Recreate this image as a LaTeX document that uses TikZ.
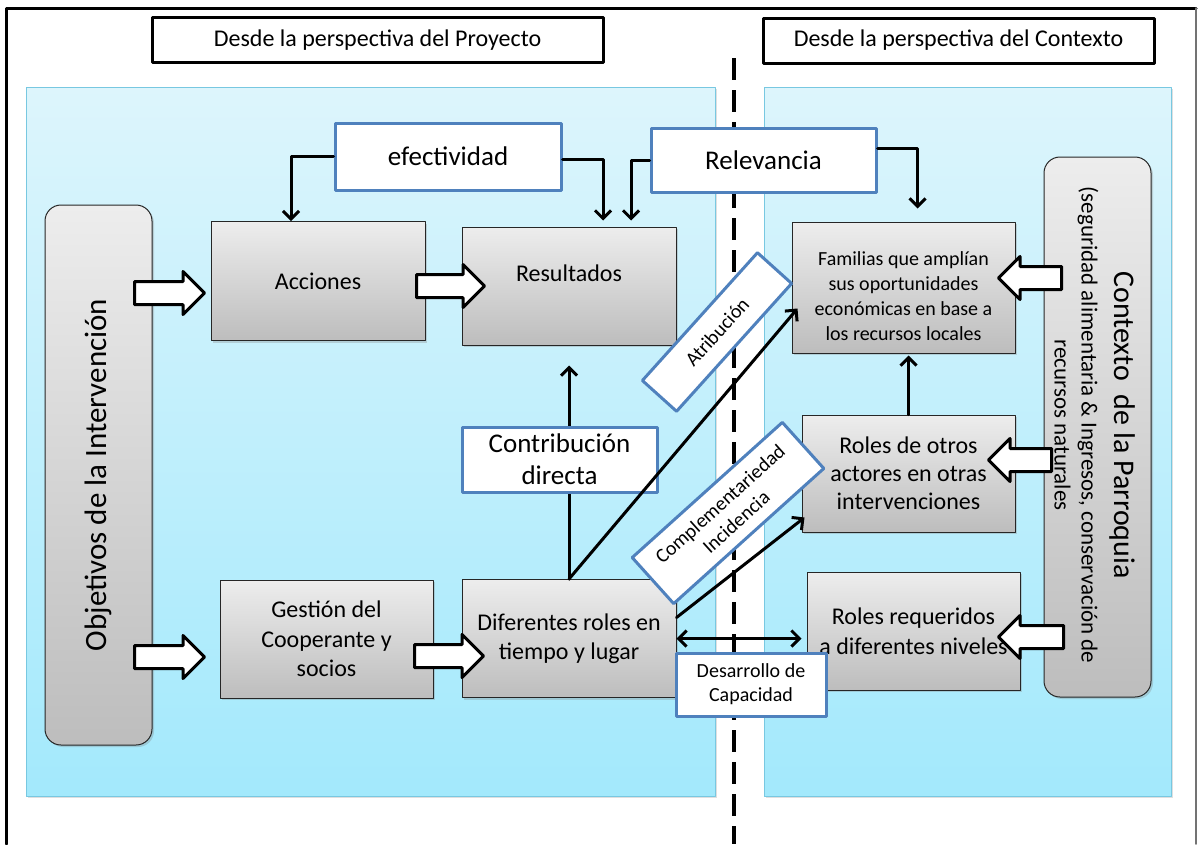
\documentclass[tikz,border=0pt]{standalone}
\usepackage{fontspec}
\setmainfont{Carlito}
\usetikzlibrary{arrows.meta,positioning,shapes.arrows,calc,shadows}
\definecolor{panelTop}{RGB}{221,245,252}
\definecolor{panelBot}{RGB}{163,233,252}
\definecolor{panelEdge}{RGB}{120,200,225}
\definecolor{boxTop}{RGB}{237,237,237}
\definecolor{boxBot}{RGB}{189,189,189}
\definecolor{lblBlue}{RGB}{79,129,189}

\tikzset{
  panel/.style={draw=panelEdge, line width=1pt, top color=panelTop, bottom color=panelBot,
    drop shadow={shadow xshift=1.5pt, shadow yshift=-2pt, opacity=0.25}},
  graybox/.style={draw=black!85, line width=1pt, top color=boxTop, bottom color=boxBot, align=center,
    inner sep=2pt, font=\fontsize{24}{29.5}\selectfont,
    drop shadow={shadow xshift=2pt, shadow yshift=-2pt, opacity=0.3}},
  roundbox/.style={graybox, rounded corners=16pt},
  header/.style={draw=black, line width=3pt, fill=white, font=\fontsize{24}{28}\selectfont},
  bluelbl/.style={draw=lblBlue, line width=3pt, fill=white, align=center, inner sep=2pt},
  blockarrow/.style={single arrow, draw=black, line width=3pt, fill=white, inner xsep=0pt, inner ysep=10pt,
    single arrow head extend=10pt, single arrow tip angle=90, anchor=tail},
  conn/.style={line width=3pt, -{Straight Barb[length=8pt,width=16pt]}}
}

\begin{document}
\begin{tikzpicture}[x=1pt, y=-1pt, line cap=round, line join=round]
    \useasboundingbox (0,0) rectangle (1198,844);
    \fill[white] (0,0) rectangle (1198,844);
    \draw[line width=3pt] (6,844) -- (6,8) -- (1196,8);
    \draw[line width=1.5pt, black!55] (1196,8) -- (1196,844);

    \draw[panel] (26,87) rectangle (715,796);
    \draw[panel] (764,87) rectangle (1171,796);
    \draw[line width=4pt, line cap=butt, dash pattern=on 22pt off 10pt] (734,58) -- (734,844);

    \node[header, minimum width=451pt, minimum height=45pt] (hproj) at (377.5,40) {Desde la perspectiva del Proyecto};
    \node[header, minimum width=391pt, minimum height=45pt] (hctx) at (958.5,40.5) {Desde la perspectiva del Contexto};

    \node[roundbox, minimum width=107pt, minimum height=540pt] (obj) at (98.5,475) {};
    \node[rotate=90, font=\fontsize{31}{36}\selectfont] (objtxt) at (obj.center) {Objetivos de la Intervención};
    \node[roundbox, minimum width=107pt, minimum height=540pt] (ctx) at (1097.5,427) {};
    \node[rotate=-90, align=center, font=\fontsize{23}{27}\selectfont] (ctxtxt) at (1095,425)
        {{\fontsize{30}{33}\selectfont Contexto\ \ de la Parroquia}\\[6pt]
         (seguridad alimentaria \& Ingresos, conservación de\\ recursos naturales};

    \node[graybox, minimum width=214pt, minimum height=119pt] (acc) at (318,281) {Acciones};
    \node[graybox, minimum width=214pt, minimum height=118pt] (res) at (569,286) {};
    \node[font=\fontsize{24}{29.5}\selectfont] (restxt) at (569,273) {Resultados};
    \node[graybox, minimum width=213pt, minimum height=118pt] (ges) at (326.5,639) {Gestión del\\Cooperante y\\socios};
    \node[graybox, minimum width=214pt, minimum height=118pt] (dif) at (569,638.5) {Diferentes roles en\\tiempo y lugar};
    \node[graybox, minimum width=223pt, minimum height=131pt] (fam) at (903.5,287.5) {};
    \node[align=center, font=\fontsize{20}{25}\selectfont] (famtxt) at (903.5,296)
        {Familias que amplían\\sus oportunidades\\económicas en base a\\los recursos locales};
    \node[graybox, minimum width=213pt, minimum height=117pt, font=\fontsize{24}{28}\selectfont] (rot) at (908.5,473.5)
        {Roles de otros\\actores en otras\\intervenciones};
    \node[graybox, minimum width=213pt, minimum height=118pt] (rreq) at (913.5,631) {Roles requeridos\\a diferentes niveles};

    \node[blockarrow, minimum height=70pt] (ba1) at (133,293) {};
    \node[blockarrow, minimum height=70pt] (ba2) at (133,657) {};
    \node[blockarrow, minimum height=68pt] (ba3) at (415,286) {};
    \node[blockarrow, minimum height=69pt] (ba4) at (413,656) {};
    \node[blockarrow, shape border rotate=180, minimum height=63pt] (ba5) at (1063,278) {};
    \node[blockarrow, shape border rotate=180, minimum height=63pt] (ba6) at (1053,460) {};
    \node[blockarrow, shape border rotate=180, minimum height=65pt] (ba7) at (1065,637) {};

    \node[bluelbl, minimum width=226pt, minimum height=67pt, font=\fontsize{27}{32}\selectfont] (eff) at (448,156.5) {efectividad};
    \node[bluelbl, minimum width=225pt, minimum height=64pt, font=\fontsize{27}{32}\selectfont] (rel) at (763.5,160) {Relevancia};

    \draw[conn] (eff.west) -| ([xshift=-27pt]acc.north);
    \draw[conn, shorten >=6pt] ([yshift=-2.5pt]eff.east) -| ([xshift=34pt]res.north);
    \draw[conn, shorten >=6pt] (rel.west) -| ([xshift=62pt]res.north);
    \draw[conn, shorten >=13pt] ([yshift=12pt]rel.east) -| ([xshift=14pt]fam.north);
    \draw[conn, shorten >=20pt] (dif.north) -- (res.south);

    \node[bluelbl, minimum width=195pt, minimum height=65pt, font=\fontsize{27}{32}\selectfont] (contr) at (559.5,459.5) {Contribución\\directa};

    \draw[conn] (dif.north) -- ($(fam.west)+(6,21)$);
    \draw[conn] ($(dif.east)+(0,-21)$) -- ($(rot.west)+(3,44)$);
    \draw[conn, {Straight Barb[length=8pt,width=16pt]}-{Straight Barb[length=8pt,width=16pt]}, shorten >=5pt] (dif.east) -- (dif.east -| rreq.west);
    \draw[conn, shorten >=2pt] (rot.north) -- (rot.north |- fam.south);

    \node[bluelbl, rotate=48, minimum width=172pt, minimum height=46pt, font=\fontsize{20}{24}\selectfont] (atr) at (717,332) {Atribución};
    \node[bluelbl, rotate=42, minimum width=202pt, minimum height=62pt, font=\fontsize{20}{24}\selectfont] (comp) at (728,513) {Complementariedad\\Incidencia};
    \node[bluelbl, minimum width=150pt, minimum height=63pt, font=\fontsize{20}{24}\selectfont] (desc) at (751,684.5) {Desarrollo de\\Capacidad};
\end{tikzpicture}
\end{document}
